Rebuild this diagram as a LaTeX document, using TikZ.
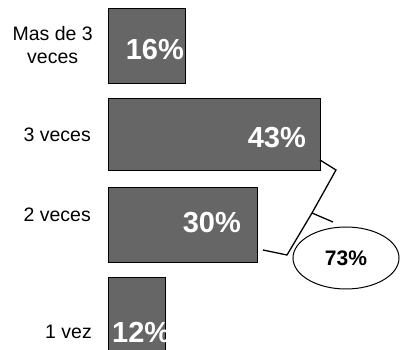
\documentclass[tikz,border=0pt]{standalone}
\usepackage{fontspec}
\setmainfont{Liberation Sans}
\usetikzlibrary{shapes.geometric}
\tikzset{
  bar/.style={draw=black, line width=1.2pt, fill=black!60, inner sep=0pt, anchor=north west},
  pct/.style={text=white, font=\bfseries\fontsize{29}{31}\selectfont, inner sep=0pt},
  lbl/.style={font=\fontsize{19.5}{23}\selectfont, anchor=east, inner sep=0pt, align=center}
}
\begin{document}
\begin{tikzpicture}[x=1pt, y=-1pt]
    \useasboundingbox (0,0) rectangle (400,350);

    % bars
    \node[bar, minimum width=77pt, minimum height=75pt] (b16) at (108,8) {};
    \node[bar, minimum width=212pt, minimum height=72pt] (b43) at (108,98) {};
    \node[bar, minimum width=149pt, minimum height=75pt] (b30) at (108,187) {};
    \node[bar, minimum width=57pt, minimum height=74pt] (b12) at (108,277) {};

    \node[pct, anchor=east] (t16) at (184,50) {16\%};
    \node[pct, anchor=east] (t43) at (306,138) {43\%};
    \node[pct, anchor=east] (t30) at (241,223) {30\%};
    \begin{scope}
        \clip (108,277) rectangle (166,350);
        \node[pct, anchor=west] (t12) at (112,332) {12\%};
    \end{scope}

    % labels
    \node[lbl] (l16) at (93,45) {Mas de 3\\veces};
    \node[lbl] (l43) at (91,135) {3 veces};
    \node[lbl] (l30) at (91,215) {2 veces};
    \node[lbl] (l12) at (92,332) {1 vez};

    % brace and total
    \node[draw, line width=1pt, ellipse, minimum width=106pt, minimum height=62pt,
          font=\bfseries\fontsize{21}{23}\selectfont] (tot) at (346,258) {73\%};
    \coordinate (c1) at (320,160);
    \coordinate (c2) at (336,170);
    \coordinate (c3) at (312,213);
    \coordinate (c4) at (333,222);
    \coordinate (c5) at (287,255);
    \coordinate (c6) at (263,250);
    \draw[line width=1.3pt] (c1) -- (c2) -- (c3) -- (c5) -- (c6);
    \draw[line width=1.3pt] (c3) -- (c4);

\end{tikzpicture}
\end{document}
